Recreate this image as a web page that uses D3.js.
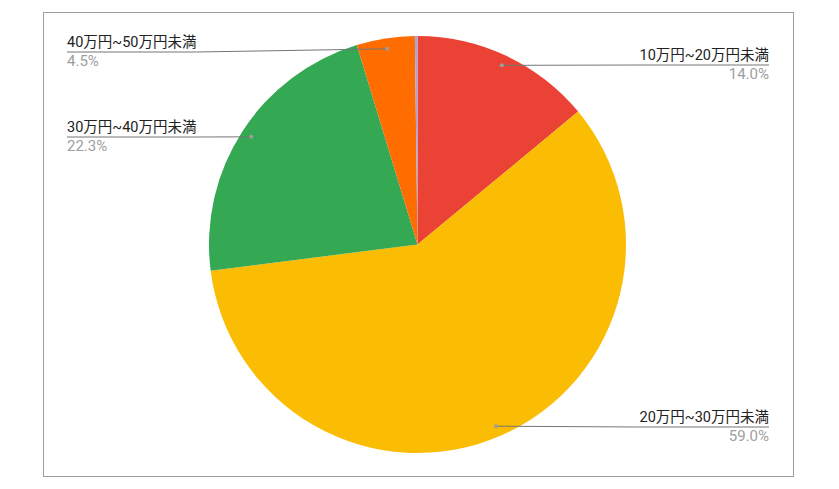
<!DOCTYPE html>
<html>
<head>
<meta charset="utf-8">
<script src="https://cdn.jsdelivr.net/npm/d3@7"></script>
<style>
  body { margin: 0; background: #fff; }
  svg { display: block; }
</style>
</head>
<body>
<svg id="chart" width="839" height="489"></svg>
<script>
// Data
const categories = ["10万円~20万円未満", "20万円~30万円未満", "30万円~40万円未満", "40万円~50万円未満", "50万円以上"];
const shares = [14.0, 59.0, 22.3, 4.5, 0.2];
const colors = ["#ea4335", "#fbbc04", "#34a853", "#ff6d01", "#a3a6d8"];

const WIDTH = 839;
const HEIGHT = 489;
const CX = 417.5, CY = 244.5, R = 208.5;
const FONT = "Roboto, 'Noto Sans CJK JP', sans-serif";

const svg = d3.select("#chart");

// chart frame
svg.append("rect")
  .attr("x", 43.5).attr("y", 12.5)
  .attr("width", 750).attr("height", 464)
  .attr("fill", "none")
  .attr("stroke", "#9e9e9e");

const data = categories.map((c, i) => ({ name: c, value: shares[i], color: colors[i] }));

const pie = d3.pie().value(d => d.value).sort(null);
const arcs = pie(data);

const arc = d3.arc().innerRadius(0).outerRadius(R);
const dotArc = d3.arc().innerRadius(198).outerRadius(198);

const g = svg.append("g").attr("transform", `translate(${CX},${CY})`);

g.selectAll("path")
  .data(arcs)
  .join("path")
    .attr("d", arc)
    .attr("fill", d => d.data.color);

// Labels: left side labels start at x=67, right side ones end at x=769
const labelPos = {
  "10万円~20万円未満": { side: "right", y: 65 },
  "20万円~30万円未満": { side: "right", y: 427 },
  "30万円~40万円未満": { side: "left", y: 137 },
  "40万円~50万円未満": { side: "left", y: 52 }
};
const LEFT_X = 67, RIGHT_X = 769;

const labels = svg.append("g").attr("font-family", FONT);

arcs.filter(d => labelPos[d.data.name]).forEach(d => {
  const p = labelPos[d.data.name];
  const [dx, dy] = dotArc.centroid(d);
  const dot = [CX + dx, CY + dy];

  const name = labels.append("text")
    .attr("y", p.y - 5)
    .attr("font-size", 14.5)
    .attr("fill", "#222")
    .text(d.data.name);
  const w = name.node().getComputedTextLength();

  let x0, x1;
  if (p.side === "left") {
    name.attr("x", LEFT_X).attr("text-anchor", "start");
    x0 = LEFT_X; x1 = LEFT_X + w;
  } else {
    name.attr("x", RIGHT_X).attr("text-anchor", "end");
    x0 = RIGHT_X - w; x1 = RIGHT_X;
  }

  labels.append("text")
    .attr("x", p.side === "left" ? LEFT_X : RIGHT_X)
    .attr("y", p.y + 13.5)
    .attr("text-anchor", p.side === "left" ? "start" : "end")
    .attr("font-size", 15)
    .attr("fill", "#9e9e9e")
    .text(d.data.value.toFixed(1) + "%");

  const pts = p.side === "left"
    ? [[x0, p.y], [x1, p.y], dot]
    : [[x1, p.y], [x0, p.y], dot];

  labels.append("path")
    .attr("d", d3.line()(pts))
    .attr("fill", "none")
    .attr("stroke", "#757575")
    .attr("stroke-width", 1);

  labels.append("circle")
    .attr("cx", dot[0]).attr("cy", dot[1])
    .attr("r", 2)
    .attr("fill", "#9e9e9e");
});
</script>
</body>
</html>
